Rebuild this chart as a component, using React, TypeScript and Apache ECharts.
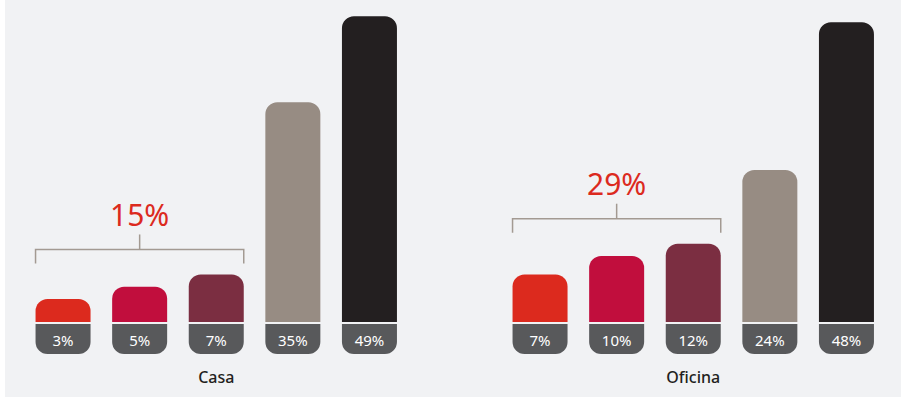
import React, { useEffect, useRef } from "react";
import * as echarts from "echarts";

const groupNames = ["Casa", "Oficina"];
const casaValues = [3, 5, 7, 35, 49];
const oficinaValues = [7, 10, 12, 24, 48];
const groupValues = [casaValues, oficinaValues];
const barColors = ["#dc2a1e", "#c10e3d", "#7b2e41", "#978c83", "#231f20"];
const bracketCount = 3;

const FONT = "'Noto Sans', sans-serif";
const AXIS_MIN = -0.73;
const AXIS_MAX = 50;
const BAR_W = 55;
const R = 12;

export default function App() {
  const ref = useRef<HTMLDivElement>(null);
  useEffect(() => {
    if (!ref.current) return;
    const chart = echarts.init(ref.current, null, { renderer: "svg" });
    const gridLefts = [24.75, 501.75];
    const grids = gridLefts.map((l) => ({ left: l, width: 383, top: 10, bottom: 78 }));
    const xAxes = groupValues.map((vals, g) => ({
      type: "category",
      gridIndex: g,
      data: vals.map((v) => `${v}%`),
      axisLine: { show: false },
      axisTick: { show: false },
      axisLabel: { show: false },
      name: groupNames[g],
      nameLocation: "middle",
      nameGap: 47,
      nameTextStyle: { fontSize: 16, color: "#231f20", fontFamily: FONT, fontWeight: 500 },
    }));
    const yAxes = groupValues.map((_, g) => ({
      type: "value",
      gridIndex: g,
      min: AXIS_MIN,
      max: AXIS_MAX,
      show: false,
      splitLine: { show: false },
    }));
    const series = groupValues.map((vals, g) => ({
      type: "custom",
      xAxisIndex: g,
      yAxisIndex: g,
      clip: false,
      data: vals.map((v, i) => [i, v]),
      renderItem: (params: any, api: any) => {
        const i = api.value(0);
        const v = api.value(1);
        const top = api.coord([i, v]);
        const base = api.coord([i, AXIS_MIN]);
        const x = top[0] - BAR_W / 2;
        return {
          type: "group",
          children: [
            {
              type: "rect",
              shape: { x, y: top[1], width: BAR_W, height: base[1] - top[1], r: [R, R, 0, 0] },
              style: { fill: barColors[i] },
            },
            {
              type: "rect",
              shape: { x, y: base[1] + 2, width: BAR_W, height: 30, r: [0, 0, R, R] },
              style: { fill: "#58595b" },
            },
            {
              type: "text",
              x: top[0],
              y: base[1] + 18,
              style: {
                text: `${v}%`,
                fill: "#ffffff",
                fontSize: 15,
                fontFamily: FONT,
                align: "center",
                verticalAlign: "middle",
              },
            },
          ],
        };
      },
    }));
    const baseOption: any = {
      animation: false,
      backgroundColor: "#ffffff",
      grid: grids,
      xAxis: xAxes,
      yAxis: yAxes,
      series,
    };
    chart.setOption(baseOption);

    const graphics: any[] = [
      {
        type: "rect",
        z: -100,
        silent: true,
        shape: { x: 5, y: 0, width: 896, height: 397 },
        style: { fill: "#f1f2f4" },
      },
    ];
    groupValues.forEach((vals, g) => {
      const cats = vals.map((v) => `${v}%`);
      const xL = chart.convertToPixel({ xAxisIndex: g }, cats[0]) as number;
      const xR = chart.convertToPixel({ xAxisIndex: g }, cats[bracketCount - 1]) as number;
      const sub = vals.slice(0, bracketCount);
      const maxV = Math.max(...sub);
      const total = sub.reduce((a, b) => a + b, 0);
      const yTop = chart.convertToPixel({ yAxisIndex: g }, maxV) as number;
      const by = yTop - 25;
      const l = xL - BAR_W / 2;
      const r = xR + BAR_W / 2;
      const c = (l + r) / 2;
      graphics.push({
        type: "polyline",
        silent: true,
        shape: { points: [[l, by + 14], [l, by], [r, by], [r, by + 14]] },
        style: { stroke: "#a39a92", lineWidth: 1.5, fill: "none" },
      });
      graphics.push({
        type: "line",
        silent: true,
        shape: { x1: c, y1: by, x2: c, y2: by - 15 },
        style: { stroke: "#a39a92", lineWidth: 1.5 },
      });
      graphics.push({
        type: "text",
        silent: true,
        x: c,
        y: by - 35,
        style: {
          text: `${total}%`,
          fill: "#dc2a1e",
          fontSize: 30,
          fontFamily: FONT,
          align: "center",
          verticalAlign: "middle",
        },
      });
    });
    chart.setOption({ graphic: graphics });
    return () => chart.dispose();
  }, []);
  return (
    <div style={{ position: "fixed", left: 0, top: 0, width: 901, height: 400, background: "#fff" }}>
      <div ref={ref} style={{ width: 901, height: 400 }} />
    </div>
  );
}
